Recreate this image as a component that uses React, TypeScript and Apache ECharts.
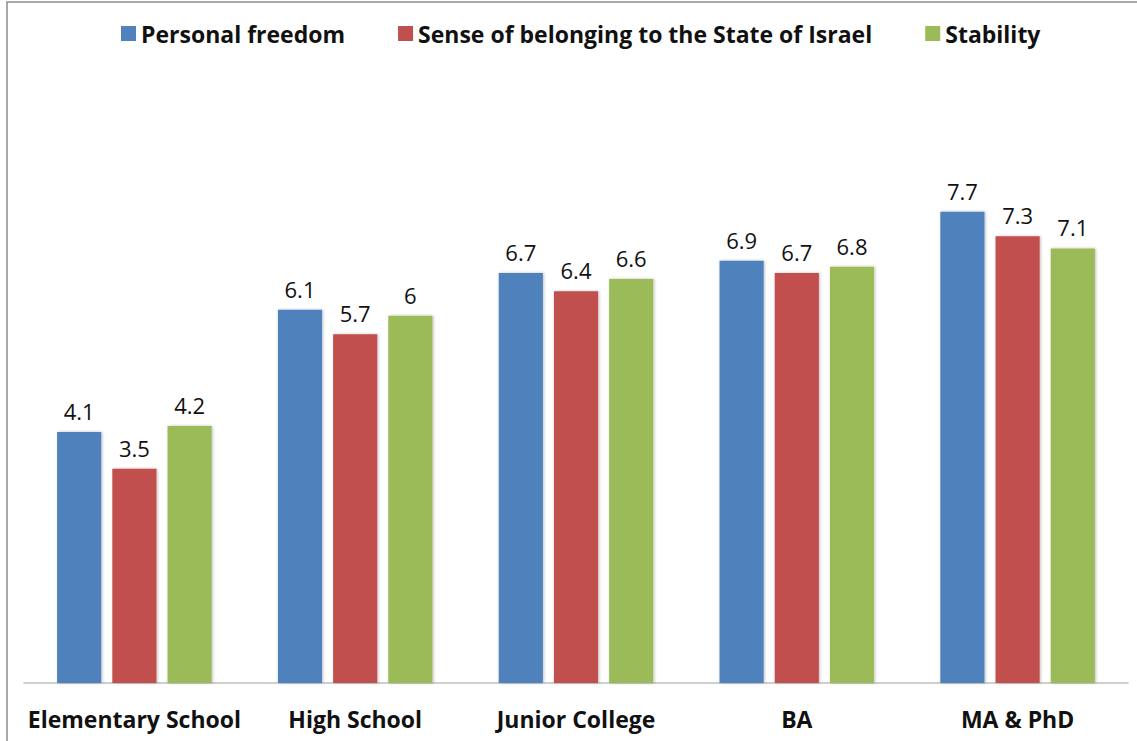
import React, { useEffect, useRef } from "react";
import * as echarts from "echarts";

const categories = ["Elementary School", "High School", "Junior College", "BA", "MA & PhD"];
const seriesNames = ["Personal freedom", "Sense of belonging to the State of Israel", "Stability"];
const personalFreedom = [4.1, 6.1, 6.7, 6.9, 7.7];
const belonging = [3.5, 5.7, 6.4, 6.7, 7.3];
const stability = [4.2, 6, 6.6, 6.8, 7.1];
const colors = ["#4F81BD", "#C0504D", "#9BBB59"];

const FONT = "'Open Sans', sans-serif";

export default function App() {
  const ref = useRef<HTMLDivElement>(null);
  useEffect(() => {
    document.body.style.margin = "0";
    const chart = echarts.init(ref.current!, null, { renderer: "svg" });
    const data = [personalFreedom, belonging, stability];
    chart.setOption({
      animation: false,
      backgroundColor: "#fff",
      textStyle: { fontFamily: FONT },
      legend: {
        top: 17,
        left: 116,
        itemWidth: 15,
        itemHeight: 15,
        itemGap: 53,
        icon: "rect",
        textStyle: { fontSize: 23, fontWeight: "bold", color: "#111", fontFamily: FONT },
        data: seriesNames,
      },
      graphic: [
        {
          type: "rect",
          shape: { x: 7, y: 2, width: 1300, height: 900 },
          style: { fill: "none", stroke: "#8c8c8c", lineWidth: 1.5 },
          silent: true,
        },
      ],
      grid: { left: 24, right: 9, top: 71, bottom: 58, containLabel: false },
      xAxis: {
        type: "category",
        data: categories,
        axisLine: { lineStyle: { color: "#bfbfbf", width: 1.5 } },
        axisTick: { show: false },
        axisLabel: {
          interval: 0,
          fontSize: 23,
          fontWeight: "bold",
          color: "#111",
          margin: 24,
          fontFamily: FONT,
        },
      },
      yAxis: {
        type: "value",
        min: 0,
        max: 10,
        show: false,
        splitLine: { show: false },
      },
      series: data.map((d, i) => ({
        name: seriesNames[i],
        type: "bar",
        data: d,
        barGap: "25%",
        barCategoryGap: "30%",
        itemStyle: {
          color: colors[i],
          shadowColor: "rgba(0,0,0,0.25)",
          shadowBlur: 3,
          shadowOffsetX: 1,
        },
        label: {
          show: true,
          position: "top",
          distance: 10,
          fontSize: 22,
          color: "#111",
          fontFamily: FONT,
        },
      })),
    });
    return () => chart.dispose();
  }, []);
  return <div ref={ref} style={{ position: "fixed", left: 0, top: 0, width: 1137, height: 741 }} />;
}
